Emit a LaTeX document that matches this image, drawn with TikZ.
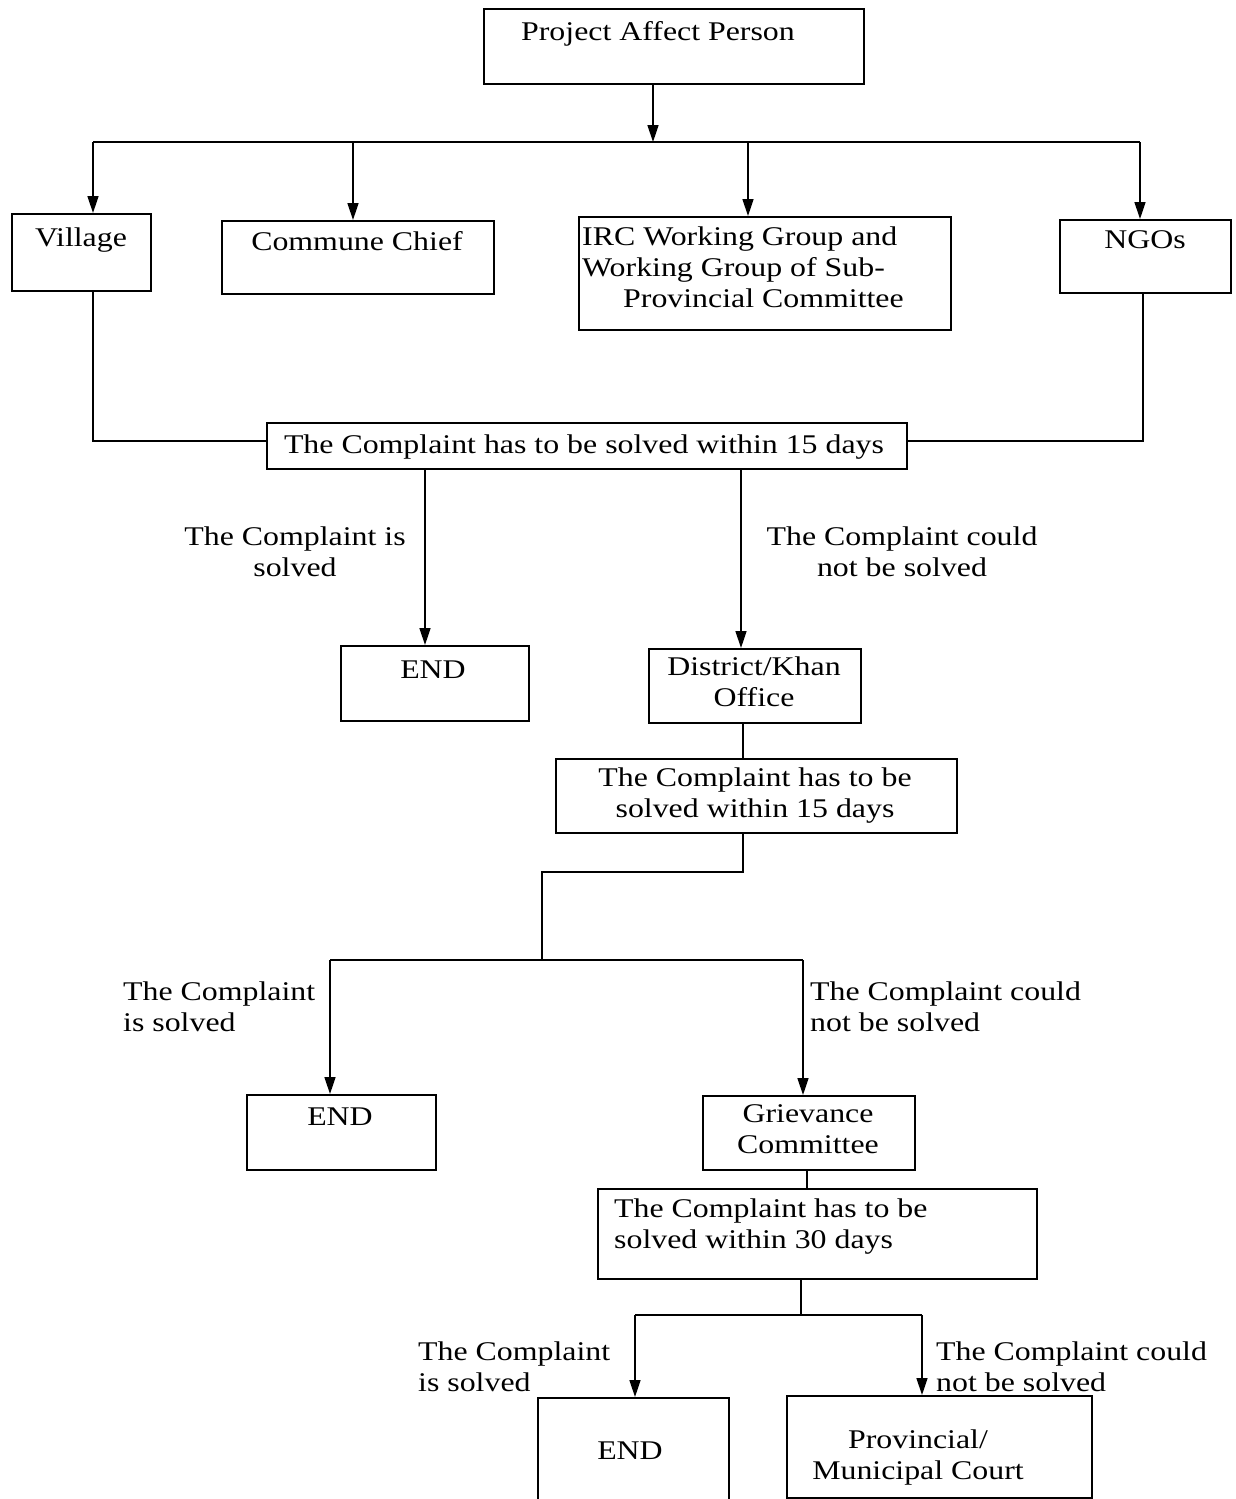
\documentclass[tikz,border=0pt]{standalone}
\usepackage{fontspec}
\setmainfont{Liberation Serif}[FakeStretch=1.18]
\usetikzlibrary{arrows.meta}
\begin{document}
\begin{tikzpicture}[x=1pt,y=-1pt,
  box/.style={draw, line width=2pt, inner sep=0pt, anchor=north west},
  txt/.style={inner sep=0pt, anchor=base, font=\fontsize{27}{31}\selectfont, align=center},
  ltxt/.style={txt, anchor=base west, align=left},
  conn/.style={line width=1.5pt},
  arr/.style={conn, -{Triangle[length=17pt,width=11pt]}}]
\useasboundingbox (0,0) rectangle (1236,1499);
% boxes
\node[box, minimum width=380pt, minimum height=75pt] (pap) at (483,8) {};
\node[box, minimum width=139pt, minimum height=77pt] (vil) at (11,213) {};
\node[box, minimum width=272pt, minimum height=73pt] (cc) at (221,220) {};
\node[box, minimum width=372pt, minimum height=113pt] (irc) at (578,216) {};
\node[box, minimum width=171pt, minimum height=73pt] (ngo) at (1059,219) {};
\node[box, minimum width=640pt, minimum height=46pt] (c1) at (266,422) {};
\node[box, minimum width=188pt, minimum height=75pt] (e1) at (340,645) {};
\node[box, minimum width=212pt, minimum height=74pt] (dk) at (648,648) {};
\node[box, minimum width=401pt, minimum height=74pt] (c2) at (555,758) {};
\node[box, minimum width=189pt, minimum height=75pt] (e2) at (246,1094) {};
\node[box, minimum width=212pt, minimum height=74pt] (gc) at (702,1095) {};
\node[box, minimum width=439pt, minimum height=90pt] (c3) at (597,1188) {};
\node[box, minimum width=191pt, minimum height=130pt] (e3) at (537,1397) {};
\node[box, minimum width=305pt, minimum height=102pt] (pc) at (786,1395) {};
% texts (base anchor = baseline of last line)
\node[txt] (tpap) at (658,40) {Project Affect Person};
\node[txt] (tvil) at (81,246) {Village};
\node[txt] (tcc) at (357,250) {Commune Chief};
\node[ltxt] (tirc) at (582,307) {IRC Working Group and\\Working Group of Sub-\\\hspace*{41pt}Provincial Committee};
\node[txt] (tngo) at (1145,248) {NGOs};
\node[txt] (tc1) at (584,453) {The Complaint has to be solved within 15 days};
\node[txt] (te1) at (433,678) {END};
\node[txt] (tdk) at (754,706) {District/Khan\\Office};
\node[txt] (tc2) at (755,817) {The Complaint has to be\\solved within 15 days};
\node[txt] (te2) at (340,1125) {END};
\node[txt] (tgc) at (808,1153) {Grievance\\Committee};
\node[ltxt] (tc3) at (614,1248) {The Complaint has to be\\solved within 30 days};
\node[txt] (te3) at (630,1459) {END};
\node[txt] (tpc) at (918,1479) {Provincial/\\Municipal Court};
% edge labels
\node[txt] (l1) at (295,576) {The Complaint is\\solved};
\node[txt] (l2) at (902,576) {The Complaint could\\not be solved};
\node[ltxt] (l3) at (123,1031) {The Complaint\\is solved};
\node[ltxt] (l4) at (810,1031) {The Complaint could\\not be solved};
\node[ltxt] (l5) at (418,1391) {The Complaint\\is solved};
\node[ltxt] (l6) at (936,1391) {The Complaint could\\not be solved};
% connectors
\coordinate (hub) at (653,142);
\draw[arr] (hub |- pap.south) -- (hub);
\draw[conn] ([xshift=11.5pt]vil.north |- hub) -- ([xshift=-5.5pt]ngo.north |- hub);
\draw[arr] ([xshift=11.5pt]vil.north |- hub) -- ([xshift=11.5pt]vil.north);
\draw[arr] ([xshift=-5pt]cc.north |- hub) -- ([xshift=-5pt]cc.north);
\draw[arr] ([xshift=-17pt]irc.north |- hub) -- ([xshift=-17pt]irc.north);
\draw[arr] ([xshift=-5.5pt]ngo.north |- hub) -- ([xshift=-5.5pt]ngo.north);
\draw[conn] ([xshift=11.5pt]vil.south) |- ([yshift=5pt]c1.west);
\draw[conn] ([xshift=-2.5pt]ngo.south) |- ([yshift=5pt]c1.east);
\draw[arr] ([xshift=-10pt]e1.north |- c1.south) -- ([xshift=-10pt]e1.north);
\draw[arr] ([xshift=-14pt]dk.north |- c1.south) -- ([xshift=-14pt]dk.north);
\draw[conn] ([xshift=-12pt]dk.south) -- ([xshift=-12pt]dk.south |- c2.north);
\coordinate (k2) at (542,872);
\coordinate (j2) at (542,960);
\draw[conn] ([xshift=-13.5pt]c2.south) |- (k2) -- (j2);
\draw[conn] ([xshift=-11.5pt]e2.north |- j2) -- ([xshift=-6pt]gc.north |- j2);
\draw[arr] ([xshift=-11.5pt]e2.north |- j2) -- ([xshift=-11.5pt]e2.north);
\draw[arr] ([xshift=-6pt]gc.north |- j2) -- ([xshift=-6pt]gc.north);
\draw[conn] ([xshift=-2pt]gc.south) -- ([xshift=-2pt]gc.south |- c3.north);
\coordinate (j3) at (801,1315);
\draw[conn] (j3 |- c3.south) -- (j3);
\draw[conn] ([xshift=1.5pt]e3.north |- j3) -- ([xshift=-17.5pt]pc.north |- j3);
\draw[arr] ([xshift=1.5pt]e3.north |- j3) -- ([xshift=1.5pt]e3.north);
\draw[arr] ([xshift=-17.5pt]pc.north |- j3) -- ([xshift=-17.5pt]pc.north);
\end{tikzpicture}
\end{document}
